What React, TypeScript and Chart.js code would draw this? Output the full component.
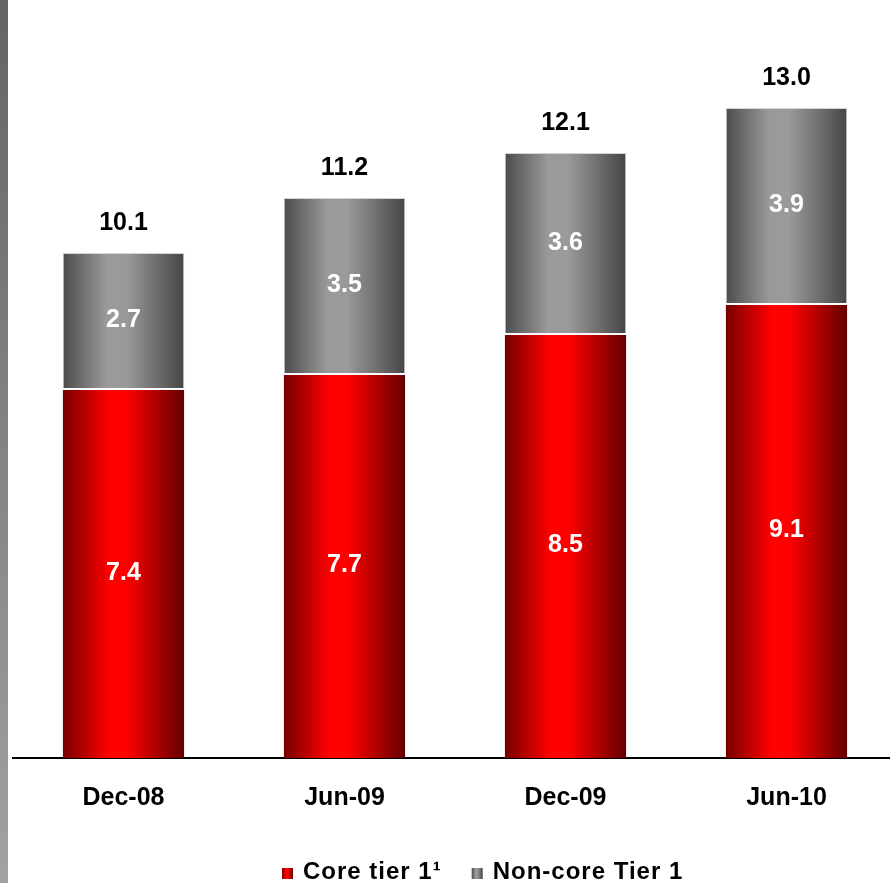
import React, { useEffect, useRef } from 'react';
import { Chart, registerables } from 'chart.js';

Chart.register(...registerables);

const categories = ['Dec-08', 'Jun-09', 'Dec-09', 'Jun-10'];
const coreTier1 = [7.4, 7.7, 8.5, 9.1];
const nonCoreTier1 = [2.7, 3.5, 3.6, 3.9];
const totals = [10.1, 11.2, 12.1, 13.0];
const seriesNames = ['Core tier 1\u00b9', 'Non-core Tier 1'];

const FONT = '"Liberation Sans", Arial, Helvetica, sans-serif';
const BAR_FRACTION = 0.55;

const redStops: [number, string][] = [
  [0, '#780000'],
  [0.38, '#ff0000'],
  [0.52, '#ff0000'],
  [1, '#640000'],
];
const grayStops: [number, string][] = [
  [0, '#4c4c4c'],
  [0.36, '#9a9a9a'],
  [0.52, '#9a9a9a'],
  [1, '#464646'],
];

function hGradient(ctx: CanvasRenderingContext2D, x0: number, x1: number, stops: [number, string][]) {
  const g = ctx.createLinearGradient(x0, 0, x1, 0);
  stops.forEach(([o, c]) => g.addColorStop(o, c));
  return g;
}

function barFill(stops: [number, string][]) {
  return (c: any) => {
    const chart = c.chart;
    const xs = chart.scales && chart.scales.x;
    if (!chart.chartArea || !xs) return stops[1][1];
    const cx = xs.getPixelForValue(c.dataIndex);
    const w = (xs.width / categories.length) * BAR_FRACTION;
    return hGradient(chart.ctx, cx - w / 2, cx + w / 2, stops);
  };
}

const labelPlugin = {
  id: 'valueLabels',
  afterDatasetsDraw(chart: any) {
    const ctx = chart.ctx;
    ctx.save();
    ctx.font = `bold 25px ${FONT}`;
    ctx.textAlign = 'center';
    ctx.textBaseline = 'middle';
    chart.data.datasets.forEach((ds: any, di: number) => {
      const meta = chart.getDatasetMeta(di);
      meta.data.forEach((el: any, i: number) => {
        ctx.fillStyle = '#ffffff';
        ctx.fillText(Number(ds.data[i]).toFixed(1), el.x, (el.y + el.base) / 2);
        if (di === chart.data.datasets.length - 1) {
          ctx.fillStyle = '#000000';
          ctx.fillText(totals[i].toFixed(1), el.x, el.y - 30);
        }
      });
    });
    ctx.restore();
  },
};

const legendPlugin = {
  id: 'customLegend',
  afterDraw(chart: any) {
    const ctx = chart.ctx;
    ctx.save();
    ctx.font = `bold 24px ${FONT}`;
    (ctx as any).letterSpacing = '1px';
    ctx.textAlign = 'left';
    ctx.textBaseline = 'alphabetic';
    const baseline = 879;
    const box = 11;
    let x = 282;
    const stopsList = [redStops, grayStops];
    seriesNames.forEach((name, i) => {
      ctx.fillStyle = hGradient(ctx, x, x + box, stopsList[i]);
      ctx.fillRect(x, baseline - box, box, box);
      ctx.fillStyle = '#000000';
      ctx.fillText(name, x + box + 10, baseline);
      x += box + 10 + ctx.measureText(name).width + 30;
    });
    ctx.restore();
  },
};

export default function App() {
  const ref = useRef<HTMLCanvasElement | null>(null);

  useEffect(() => {
    if (!ref.current) return;
    Chart.defaults.font.family = FONT;
    const chart = new Chart(ref.current, {
      type: 'bar',
      data: {
        labels: categories,
        datasets: [
          {
            label: seriesNames[0],
            data: coreTier1,
            backgroundColor: barFill(redStops),
            borderColor: '#ffffff',
            borderWidth: { top: 2, left: 0, right: 0, bottom: 0 },
            borderSkipped: 'start',
            categoryPercentage: 1,
            barPercentage: BAR_FRACTION,
          },
          {
            label: seriesNames[1],
            data: nonCoreTier1,
            backgroundColor: barFill(grayStops),
            borderColor: '#d4d4d4',
            borderWidth: { top: 1, left: 1, right: 1, bottom: 0 },
            borderSkipped: 'start',
            categoryPercentage: 1,
            barPercentage: BAR_FRACTION,
          },
        ],
      },
      options: {
        responsive: false,
        animation: false,
        devicePixelRatio: 1,
        layout: { padding: { top: 8, bottom: 50, left: 13, right: 0 } },
        plugins: {
          legend: { display: false },
          tooltip: { enabled: false },
        },
        scales: {
          x: {
            stacked: true,
            grid: { display: false },
            border: { display: true, color: '#000000', width: 2 },
            ticks: {
              color: '#000000',
              padding: 17,
              font: { size: 25, weight: 'bold', family: FONT },
            },
            afterFit: (scale: any) => {
              scale.height = 75;
            },
          },
          y: {
            stacked: true,
            display: false,
            min: 0,
            max: 15,
          },
        },
      },
      plugins: [labelPlugin, legendPlugin],
    } as any);
    return () => chart.destroy();
  }, []);

  return (
    <div
      style={{
        position: 'absolute',
        left: 0,
        top: 0,
        width: 890,
        height: 883,
        overflow: 'hidden',
        background: '#ffffff',
      }}
    >
      <canvas ref={ref} width={897} height={883} style={{ position: 'absolute', left: 0, top: 0 }} />
      <div
        style={{
          position: 'absolute',
          left: 0,
          top: 0,
          width: 8,
          height: 883,
          background: 'linear-gradient(to bottom, #646464, #a2a2a2)',
        }}
      />
    </div>
  );
}
